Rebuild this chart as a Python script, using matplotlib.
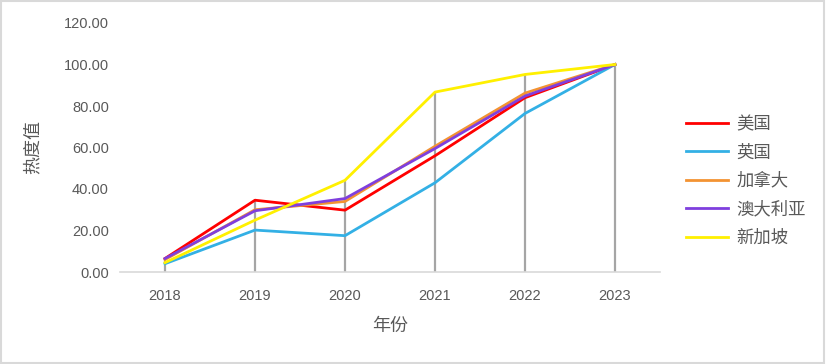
import matplotlib.pyplot as plt
from matplotlib.patches import Rectangle

plt.rcParams['font.family'] = ['Noto Sans CJK SC', 'DejaVu Sans']

# data
years = ['2018', '2019', '2020', '2021', '2022', '2023']
us = [6.5, 34.6, 29.8, 56.0, 84.0, 100.0]
uk = [4.0, 20.2, 17.5, 43.0, 76.4, 100.0]
canada = [6.0, 30.0, 34.0, 60.6, 86.2, 100.0]
australia = [6.5, 29.5, 35.4, 59.5, 84.8, 100.0]
singapore = [4.5, 25.0, 44.2, 86.7, 95.2, 100.0]

names = ['美国', '英国', '加拿大', '澳大利亚', '新加坡']
series = [us, uk, canada, australia, singapore]
colors = ['#FF0000', '#33B0E5', '#F39332', '#7F3FDE', '#FFF000']

txt = '#595959'

fig = plt.figure(figsize=(8.26, 3.64), dpi=100)
ax = fig.add_axes([120 / 826, 1 - 272 / 364, 540 / 826, 249 / 364])

x = list(range(len(years)))

# drop lines (Excel style) from highest point down to the axis
tops = [max(s[i] for s in series) for i in x]
ax.vlines(x, 0, tops, color='#A5A5A5', lw=1.6, zorder=1)

for name, s, c in zip(names, series, colors):
    ax.plot(x, s, color=c, lw=2.0, label=name, zorder=2)

ax.set_xlim(-0.5, 5.5)
ax.set_ylim(0, 120)
ax.set_xticks(x)
ax.set_xticklabels(years)
ax.set_yticks(range(0, 121, 20))
ax.set_yticklabels(['%.2f' % v for v in range(0, 121, 20)])
ax.tick_params(length=0, labelsize=10.5, labelcolor=txt, pad=8)
for lab in ax.get_xticklabels() + ax.get_yticklabels():
    lab.set_family(['Liberation Sans', 'DejaVu Sans'])
ax.tick_params(axis='x', pad=12)

for side in ['top', 'right', 'left']:
    ax.spines[side].set_visible(False)
ax.spines['bottom'].set_color('#D9D9D9')
ax.spines['bottom'].set_linewidth(1.2)

ax.set_xlabel('年份', fontsize=13, color=txt, labelpad=10)
ax.set_ylabel('热度值', fontsize=13, color=txt, labelpad=16)

leg = ax.legend(loc='center left', bbox_to_anchor=(1.02, 0.366), frameon=False,
                fontsize=12.5, handlelength=2.4, labelspacing=0.6,
                handletextpad=0.5)
for t in leg.get_texts():
    t.set_color(txt)

# light grey frame round the whole chart
fig.patches.append(Rectangle((0.001, 0.002), 0.997, 0.995, transform=fig.transFigure,
                             fill=False, edgecolor='#D9D9D9', lw=1.5))

fig.savefig('out.png', dpi=100)
